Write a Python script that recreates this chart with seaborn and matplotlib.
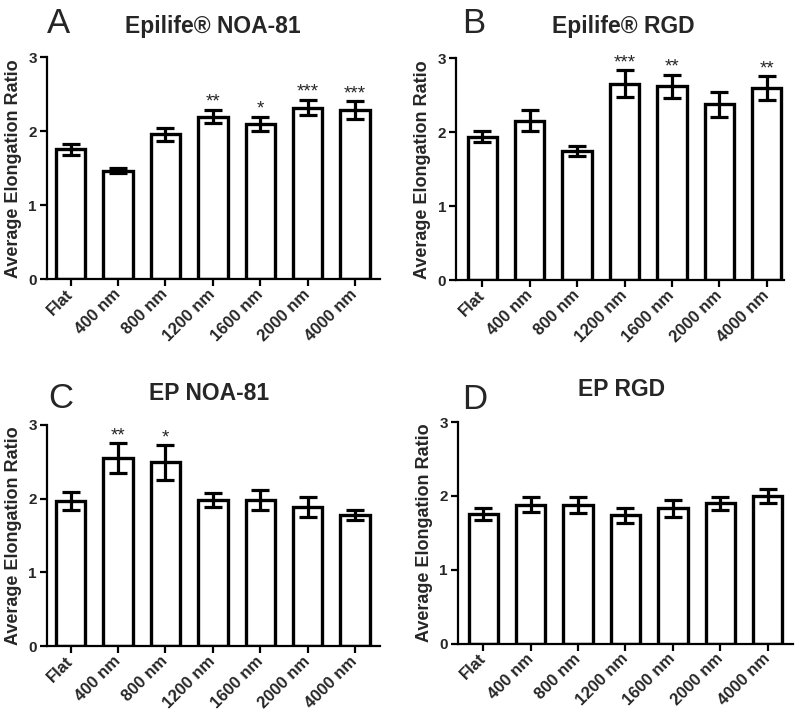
import matplotlib
matplotlib.use('Agg')
import matplotlib.pyplot as plt
import seaborn as sns

# Bar categories (same for every panel)
sizes = ['Flat', '400 nm', '800 nm', '1200 nm', '1600 nm', '2000 nm', '4000 nm']

# Panel A: Epilife NOA-81
a_mean = [1.76, 1.47, 1.96, 2.20, 2.10, 2.32, 2.29]
a_sem = [0.075, 0.035, 0.09, 0.09, 0.10, 0.105, 0.12]
a_sig = ['', '', '', '**', '*', '***', '***']

# Panel B: Epilife RGD
b_mean = [1.94, 2.16, 1.75, 2.66, 2.62, 2.38, 2.60]
b_sem = [0.075, 0.14, 0.07, 0.18, 0.16, 0.17, 0.16]
b_sig = ['', '', '', '***', '**', '', '**']

# Panel C: EP NOA-81
c_mean = [1.97, 2.55, 2.49, 1.98, 1.98, 1.89, 1.78]
c_sem = [0.12, 0.20, 0.235, 0.09, 0.13, 0.135, 0.07]
c_sig = ['', '**', '*', '', '', '', '']

# Panel D: EP RGD
d_mean = [1.76, 1.88, 1.88, 1.74, 1.83, 1.90, 2.00]
d_sem = [0.08, 0.10, 0.11, 0.10, 0.11, 0.09, 0.10]
d_sig = ['', '', '', '', '', '', '']

titles = ['Epilife® NOA-81', 'Epilife® RGD', 'EP NOA-81', 'EP RGD']
letters = ['A', 'B', 'C', 'D']

sns.set_style('ticks')
plt.rcParams['font.family'] = ['Liberation Sans', 'DejaVu Sans']

fig = plt.figure(figsize=(8, 7.24), dpi=100)

panels = [
    (a_mean, a_sem, a_sig, [0.0584, 0.6142, 0.4166, 0.3066], (-0.506, 6.527), (213, 33), (46.7, 32.7)),
    (b_mean, b_sem, b_sig, [0.570, 0.6128, 0.4104, 0.3066], (-0.555, 6.37), (623, 33), (461.7, 33.3)),
    (c_mean, c_sem, c_sig, [0.0584, 0.1073, 0.4166, 0.3061], (-0.506, 6.527), (209.5, 400.3), (48.3, 407.5)),
    (d_mean, d_sem, d_sig, [0.5721, 0.1109, 0.4195, 0.3062], (-0.54, 6.54), (621.7, 396.3), (461.7, 408.7)),
]

for k, (mean, sem, sig, rect, xlim, tpos, lpos) in enumerate(panels):
    ax = fig.add_axes(rect)
    sns.barplot(x=sizes, y=mean, color='white', edgecolor='black', linewidth=2.4,
                width=0.62, errorbar=None, ax=ax)
    for p in ax.patches:
        p.set_facecolor('white')
    ax.errorbar(range(len(sizes)), mean, yerr=sem, fmt='none', ecolor='black',
                elinewidth=2.3, capsize=6.4, capthick=2.3, zorder=5)
    for i, s in enumerate(sig):
        if s:
            ax.text(i, mean[i] + sem[i] + 0.04, s, ha='center', va='baseline',
                    fontsize=13.5)
    ax.set_ylim(0, 3)
    ax.set_xlim(*xlim)
    ax.set_yticks([0, 1, 2, 3])
    ax.set_yticklabels(['0', '1', '2', '3'], fontsize=11, fontweight='bold')
    ax.set_xticks(range(len(sizes)))
    ax.set_xticklabels(sizes, fontsize=12, fontweight='bold', rotation=45,
                       ha='right', va='center', rotation_mode='anchor')
    ax.tick_params(axis='both', length=5, width=1.6, pad=2, color='black')
    ax.tick_params(axis='x', pad=4)
    ax.set_ylabel('Average Elongation Ratio', fontsize=13, fontweight='bold', labelpad=5)
    for side in ['left', 'bottom']:
        ax.spines[side].set_linewidth(1.6)
        ax.spines[side].set_color('black')
    sns.despine(ax=ax)

    fig.text(tpos[0] / 800, 1 - tpos[1] / 724, titles[k], ha='center', va='baseline',
             fontsize=16.5, fontweight='bold')
    fig.text(lpos[0] / 800, 1 - lpos[1] / 724, letters[k], ha='left', va='baseline',
             fontsize=25)

fig.savefig('out.png', dpi=100)
